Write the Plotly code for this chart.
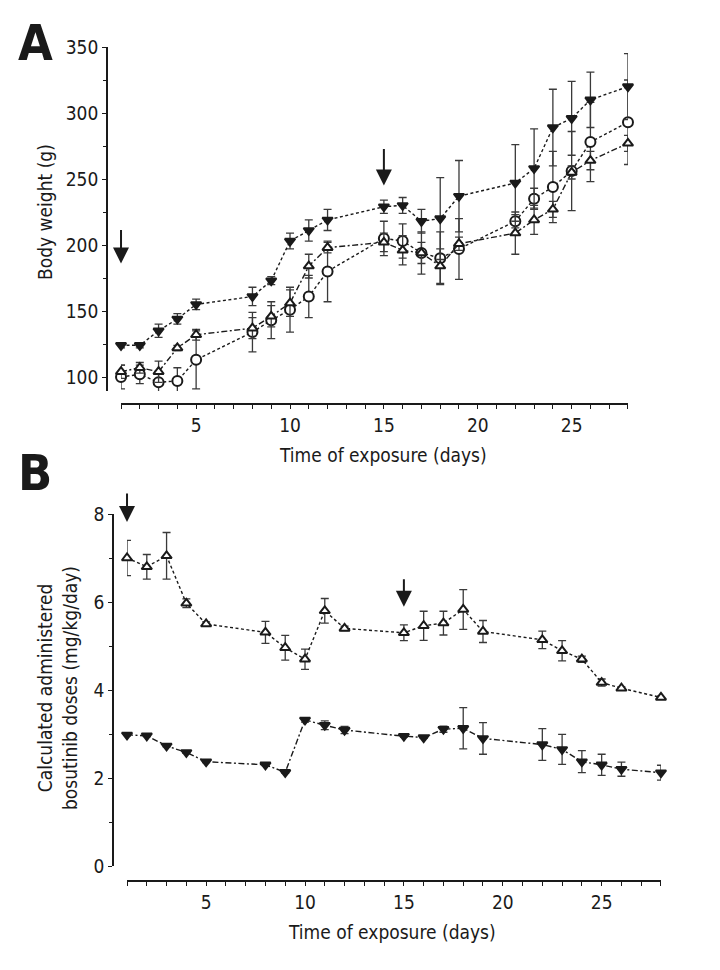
import plotly.graph_objects as go

# ---------------- data ----------------
days = [1, 2, 3, 4, 5, 8, 9, 10, 11, 12, 15, 16, 17, 18, 19, 22, 23, 24, 25, 26, 28]

# Panel A: body weight (g)
A_filled = [124, 124, 135, 144, 155, 161, 173, 203, 211, 219, 229, 230, 218, 220, 237, 247, 258, 289, 296, 310, 320]
A_filled_err = [2, 2, 5, 4, 4, 7, 3, 6, 8, 8, 5, 6, 9, 31, 27, 29, 30, 29, 28, 21, 25]
A_tri = [104, 107, 104, 122, 132, 137, 146, 156, 184, 198, 202, 196, 194, 184, 201, 209, 219, 227, 255, 264, 277]
A_tri_err = [5, 4, 8, 2, 4, 8, 8, 10, 9, 4, 7, 11, 8, 13, 5, 16, 11, 6, 5, 7, 6]
A_circ = [100, 102, 96, 97, 113, 134, 143, 151, 161, 180, 205, 203, 194, 190, 197, 218, 235, 244, 256, 278, 293]
A_circ_err = [9, 7, 8, 10, 22, 15, 14, 17, 16, 23, 13, 13, 16, 20, 23, 5, 8, 27, 30, 30, 32]

# Panel B: calculated administered bosutinib dose (mg/kg/day)
B_tri = [7.00, 6.80, 7.05, 5.97, 5.50, 5.31, 4.96, 4.70, 5.80, 5.40, 5.30, 5.46, 5.52, 5.83, 5.33, 5.14, 4.89, 4.70, 4.17, 4.04, 3.83]
B_tri_err = [0.40, 0.28, 0.53, 0.10, 0.05, 0.25, 0.28, 0.23, 0.28, 0.05, 0.18, 0.33, 0.27, 0.45, 0.25, 0.20, 0.23, 0.07, 0.08, 0.03, 0.03]
B_filled = [2.98, 2.96, 2.73, 2.58, 2.37, 2.30, 2.13, 3.32, 3.20, 3.09, 2.95, 2.92, 3.11, 3.13, 2.90, 2.76, 2.65, 2.37, 2.30, 2.20, 2.12]
B_filled_err = [0.02, 0.02, 0.02, 0.02, 0.02, 0.02, 0.02, 0.05, 0.10, 0.08, 0.02, 0.02, 0.07, 0.47, 0.36, 0.36, 0.34, 0.25, 0.24, 0.16, 0.17]

# arrows (dosing start / change)
arrow_days = [1, 15]
arrowA_y = [186, 245]
arrowB_y = [7.82, 5.89]

A_ticks = [100, 150, 200, 250, 300, 350]
B_ticks = [0, 2, 4, 6, 8]
x_ticks = [5, 10, 15, 20, 25]

# ---------------- style ----------------
PAGE_W, PAGE_H = 720, 970
OFF = 8                      # default page body margin
W, H = PAGE_W - 2 * OFF, PAGE_H - 2 * OFF
FONT = "DejaVu Sans Condensed, Liberation Sans Narrow, Arial Narrow, sans-serif"
INK = "#1a1a1a"
ERR = "#3a3a3a"
DOT = "3px,2.5px"
DASHDOT = "6px,2.5px,2px,2.5px"


def fx(v):
    """page pixel x -> paper fraction"""
    return (v - OFF) / W


def fy(v):
    """page pixel y (from top) -> paper fraction"""
    return 1 - (v - OFF) / H


fig = go.Figure()


def add_series(xs, ys, err, xa, ya, symbol, fill, dash, size):
    fig.add_trace(go.Scatter(
        x=xs, y=ys, xaxis=xa, yaxis=ya, mode="lines+markers",
        line=dict(color=INK, width=1.4, dash=dash),
        marker=dict(symbol=symbol, size=size, color=fill,
                    line=dict(color=INK, width=2)),
        error_y=dict(type="data", array=err, visible=True, color=ERR,
                     thickness=1.3, width=4),
        cliponaxis=False, showlegend=False,
    ))


# Panel A
add_series(days, A_circ, A_circ_err, "x", "y", "circle", "white", DOT, 10)
add_series(days, A_tri, A_tri_err, "x", "y", "triangle-up", "white", DASHDOT, 9)
add_series(days, A_filled, A_filled_err, "x", "y", "triangle-down", INK, DOT, 9)
# Panel B
add_series(days, B_tri, B_tri_err, "x2", "y2", "triangle-up", "white", DOT, 9)
add_series(days, B_filled, B_filled_err, "x2", "y2", "triangle-down", INK, DASHDOT, 9)

tickfont = dict(family=FONT, size=19, color=INK)
common_x = dict(range=[0.999, 28.001], tickvals=x_ticks, ticks="outside", ticklen=4,
                tickwidth=1.2, tickcolor=INK, showline=True, linewidth=1.8,
                linecolor=INK, showgrid=False, zeroline=False, tickfont=tickfont,
                minor=dict(dtick=1, tick0=0, ticks="outside", ticklen=4,
                           tickwidth=1.2, tickcolor=INK, showgrid=False),
                anchor="free", automargin=False)
common_y = dict(ticks="outside", ticklen=4, tickwidth=1.2, tickcolor=INK,
                showline=True, linewidth=1.8, linecolor=INK, showgrid=False,
                zeroline=False, tickfont=tickfont, anchor="free", automargin=False)

yA_lo = 100 - (391 - 377) / 66 * 50

fig.update_layout(
    template="none",
    width=W, height=H, margin=dict(l=0, r=0, t=0, b=0, autoexpand=False),
    paper_bgcolor="white", plot_bgcolor="white", showlegend=False,
    xaxis=dict(common_x, domain=[fx(121), fx(628)], position=fy(404)),
    yaxis=dict(common_y, domain=[fy(391), fy(47)], range=[yA_lo, 350],
               tickvals=A_ticks, position=fx(107),
               minor=dict(dtick=25, tick0=0, ticks="outside", ticklen=3,
                          tickwidth=1.2, tickcolor=INK, showgrid=False)),
    xaxis2=dict(common_x, domain=[fx(127), fx(661)], position=fy(881)),
    yaxis2=dict(common_y, domain=[fy(866), fy(514)], range=[0, 8],
                tickvals=B_ticks, position=fx(113),
                minor=dict(dtick=1, tick0=0, ticks="outside", ticklen=3,
                           tickwidth=1.2, tickcolor=INK, showgrid=False)),
)

titlefont = dict(family=FONT, size=19, color=INK)
ann = [
    dict(text="Body weight (g)", x=fx(45), y=fy(212), textangle=-90),
    dict(text="Time of exposure (days)", x=fx(383), y=fy(455)),
    dict(text="Calculated administered<br>bosutinib doses (mg/kg/day)",
         x=fx(57), y=fy(688), textangle=-90),
    dict(text="Time of exposure (days)", x=fx(392), y=fy(932)),
]
for a in ann:
    fig.add_annotation(xref="paper", yref="paper", showarrow=False,
                       xanchor="center", yanchor="middle", font=titlefont, **a)

for lab, yy in [("A", 43), ("B", 473)]:
    fig.add_annotation(text="<b>%s</b>" % lab, xref="paper", yref="paper",
                       x=fx(35), y=fy(yy), showarrow=False,
                       xanchor="center", yanchor="middle",
                       font=dict(family=FONT, size=50, color=INK))

for d, ya, yb, la, lb in zip(arrow_days, arrowA_y, arrowB_y, [-35, -38], [-30, -29]):
    fig.add_annotation(x=d, y=ya, xref="x", yref="y", text="", showarrow=True,
                       ax=0, ay=la, arrowhead=2, arrowsize=1.6, arrowwidth=2,
                       arrowcolor=INK)
    fig.add_annotation(x=d, y=yb, xref="x2", yref="y2", text="", showarrow=True,
                       ax=0, ay=lb, arrowhead=2, arrowsize=1.6, arrowwidth=2,
                       arrowcolor=INK)

fig.write_html("out.html")
